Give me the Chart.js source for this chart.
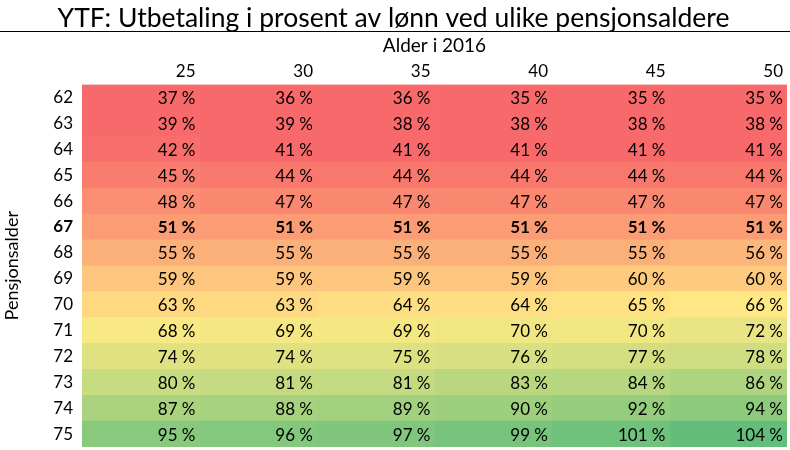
<!DOCTYPE html>
<html><head><meta charset="utf-8">
<script src="https://cdn.jsdelivr.net/npm/chart.js@4/dist/chart.umd.min.js"></script>
<style>html,body{margin:0;padding:0;background:#fff}</style>
</head><body>
<canvas id="c" width="790" height="450"></canvas>
<script>
const chartTitle = "YTF: Utbetaling i prosent av lønn ved ulike pensjonsaldere";
const xTitle = "Alder i 2016";
const yTitle = "Pensjonsalder";
const currentAges = ["25", "30", "35", "40", "45", "50"];
const pensionAges = ["62","63","64","65","66","67","68","69","70","71","72","73","74","75"];
const boldRow = "67";
// payout (% of salary) per current age, rows = pension age 62..75
const age25 = [37,39,42,45,48,51,55,59,63,68,74,80,87,95];
const age30 = [36,39,41,44,47,51,55,59,63,69,74,81,88,96];
const age35 = [36,38,41,44,47,51,55,59,64,69,75,81,89,97];
const age40 = [35,38,41,44,47,51,55,59,64,70,76,83,90,99];
const age45 = [35,38,41,44,47,51,55,60,65,70,77,84,92,101];
const age50 = [35,38,41,44,47,51,56,60,66,72,78,86,94,104];
const columns = [age25, age30, age35, age40, age45, age50];

const FONT = "Lato, 'Open Sans', sans-serif";
const allVals = columns.flat();
// colour scale: red at/below 41, yellow near 66.5, green at the maximum
const vMin = 41, vMid = 66.5, vMax = Math.max(...allVals);
const cLow = [248,105,107], cMid = [255,235,132], cHigh = [99,190,123];
function mix(a, b, t) { t = Math.max(0, Math.min(1, t)); return a.map((v, i) => Math.round(v + (b[i] - v) * t)); }
function colorFor(v) {
  const c = v <= vMid ? mix(cLow, cMid, (v - vMin) / (vMid - vMin))
                      : mix(cMid, cHigh, (v - vMid) / (vMax - vMid));
  return `rgb(${c[0]},${c[1]},${c[2]})`;
}

const datasets = columns.map((col, j) => ({
  label: currentAges[j],
  data: pensionAges.map((p, i) => ({ y: p, x: [j, j + 1], v: col[i] })),
  backgroundColor: ctx => ctx.raw ? colorFor(ctx.raw.v) : '#fff',
  borderWidth: 0,
  grouped: false,
  barPercentage: 1,
  categoryPercentage: 1
}));

const cellText = {
  id: 'cellText',
  afterDatasetsDraw(chart) {
    const ctx = chart.ctx;
    ctx.save();
    ctx.textAlign = 'right';
    ctx.textBaseline = 'middle';
    ctx.fillStyle = '#000';
    chart.data.datasets.forEach((ds, di) => {
      const meta = chart.getDatasetMeta(di);
      meta.data.forEach((el, i) => {
        const raw = ds.data[i];
        ctx.font = (raw.y === boldRow ? 'bold ' : '') + '17px ' + FONT;
        const right = Math.max(el.x, el.base);
        ctx.fillText(raw.v + ' %', right - 4, el.y + 1);
      });
    });
    ctx.restore();
  }
};

const titleLine = {
  id: 'titleLine',
  afterDraw(chart) {
    const ctx = chart.ctx;
    const y = Math.round(chart.titleBlock.bottom) - 0.5;
    ctx.save();
    ctx.strokeStyle = '#000';
    ctx.lineWidth = 1;
    ctx.beginPath();
    ctx.moveTo(0, y); ctx.lineTo(chart.width, y);
    ctx.stroke();
    ctx.restore();
  }
};

new Chart(document.getElementById('c'), {
  type: 'bar',
  data: { labels: pensionAges, datasets },
  plugins: [cellText, titleLine],
  options: {
    indexAxis: 'y',
    responsive: false,
    animation: false,
    layout: { padding: { left: 0, right: 3, top: 0, bottom: 3 } },
    plugins: {
      legend: { display: false },
      tooltip: { enabled: false },
      title: {
        display: true, text: chartTitle, color: '#000',
        font: { family: FONT, size: 26.5, weight: 'normal', lineHeight: 1.0 },
        padding: { top: 5, bottom: 0 }
      }
    },
    scales: {
      x: {
        type: 'linear', position: 'top', min: 0, max: 6,
        afterFit: s => { s.height = 53; s.paddingLeft = 0; s.paddingRight = 0; },
        grid: { display: false, drawTicks: false }, border: { display: false },
        title: { display: true, text: xTitle, color: '#000', font: { family: FONT, size: 19 }, padding: { top: 3, bottom: 0 } },
        ticks: {
          stepSize: 1, autoSkip: false, maxRotation: 0, align: 'end', labelOffset: -4,
          color: '#000', font: { family: FONT, size: 17 }, padding: 3,
          callback: v => (v >= 1 && v <= currentAges.length) ? currentAges[v - 1] : ''
        }
      },
      y: {
        type: 'category', position: 'left', offset: true,
        afterFit: s => { s.width = 82; s.paddingTop = 0; s.paddingBottom = 0; },
        grid: { display: false, drawTicks: false }, border: { display: false },
        title: { display: true, text: yTitle, color: '#000', font: { family: FONT, size: 18 }, padding: { top: 1, bottom: 0 } },
        ticks: {
          color: '#000', padding: 9, autoSkip: false,
          font: ctx => ({ family: FONT, size: 17, weight: (ctx.tick && ctx.tick.label === boldRow) ? 'bold' : 'normal' })
        }
      }
    }
  }
});
</script>
</body></html>
